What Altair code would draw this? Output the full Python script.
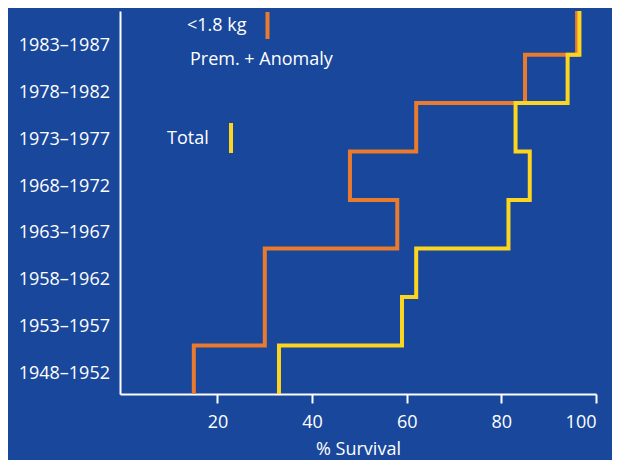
import altair as alt
import pandas as pd

# ---- data ----
periods = ["1948–1952", "1953–1957", "1958–1962", "1963–1967",
           "1968–1972", "1973–1977", "1978–1982", "1983–1987"]
prem_anomaly = [15, 30, 30, 58, 48, 62, 85, 96]      # <1.8 kg, Prem. + Anomaly
total = [33, 59, 62, 81.5, 86, 83, 94, 96.5]          # Total
x_ticks = [20, 40, 60, 80, 100]
series_names = ["<1.8 kg", "Total"]
legend_lines = ["<1.8 kg", "Prem. + Anomaly", "Total"]

BLUE = "#19479B"
ORANGE = "#E97B2E"
YELLOW = "#FBD51F"
FONT = "Open Sans"
FS = 18
Y_TOP = 7.9

rows = []
for name, vals in zip(series_names, [prem_anomaly, total]):
    k = 0
    for i, v in enumerate(vals):
        rows.append(dict(series=name, x=v, y=i, k=k)); k += 1
        rows.append(dict(series=name, x=v, y=min(i + 1, Y_TOP), k=k)); k += 1
df = pd.DataFrame(rows)

x_scale = alt.Scale(domain=[-0.6, 100], nice=False, zero=False)

lines = alt.Chart(df).mark_line(
    strokeWidth=4, strokeJoin="miter", strokeCap="square", clip=True
).encode(
    x=alt.X("x:Q", scale=x_scale,
            axis=alt.Axis(values=x_ticks, title="% Survival", grid=False,
                          domainColor="white", domainWidth=2,
                          tickColor="white", tickWidth=2, tickSize=9,
                          labelColor="white", labelFont=FONT, labelFontSize=FS,
                          labelPadding=10, titleColor="white", titleFont=FONT,
                          titleFontSize=FS, titleFontWeight="normal",
                          titlePadding=9)),
    y=alt.Y("y:Q", scale=alt.Scale(domain=[0, Y_TOP], nice=False, zero=False),
            axis=alt.Axis(labels=False, ticks=False, title=None, grid=False,
                          domainColor="white", domainWidth=2)),
    color=alt.Color("series:N", scale=alt.Scale(domain=series_names,
                                                range=[ORANGE, YELLOW]),
                    legend=None),
    order="k:Q",
)

ylabels = alt.Chart(pd.DataFrame({"period": periods})).mark_text(
    align="right", baseline="middle", font=FONT, fontSize=FS, color="white"
).encode(
    y=alt.Y("period:O", scale=alt.Scale(type="point", domain=periods,
                                        range=[363, 35], padding=0),
            axis=None),
    x=alt.value(-10),
    text="period:N",
)

one = pd.DataFrame({"a": [0]})

def label(txt, px, py):
    return alt.Chart(one).mark_text(
        align="left", baseline="alphabetic", font=FONT, fontSize=FS,
        color="white", text=txt
    ).encode(x=alt.value(px), y=alt.value(py))

def swatch(col, px, py1, py2):
    return alt.Chart(one).mark_rule(strokeWidth=4, color=col).encode(
        x=alt.value(px), y=alt.value(py1), y2=alt.value(py2))

legend = [
    label(legend_lines[0], 67, 20),
    label(legend_lines[1], 70, 54),
    label(legend_lines[2], 47, 133),
    swatch(ORANGE, 147.5, 1, 28),
    swatch(YELLOW, 111, 112, 142),
]

chart = alt.layer(lines, ylabels, *legend).resolve_scale(
    y="independent"
).properties(
    width=476, height=383,
    background=BLUE,
    padding={"left": 112, "top": 3, "right": 16, "bottom": 66},
    autosize=alt.AutoSizeParams(type="none"),
).configure_view(stroke=None)

chart.save("out.html", embed_options={"renderer": "svg", "actions": False})
